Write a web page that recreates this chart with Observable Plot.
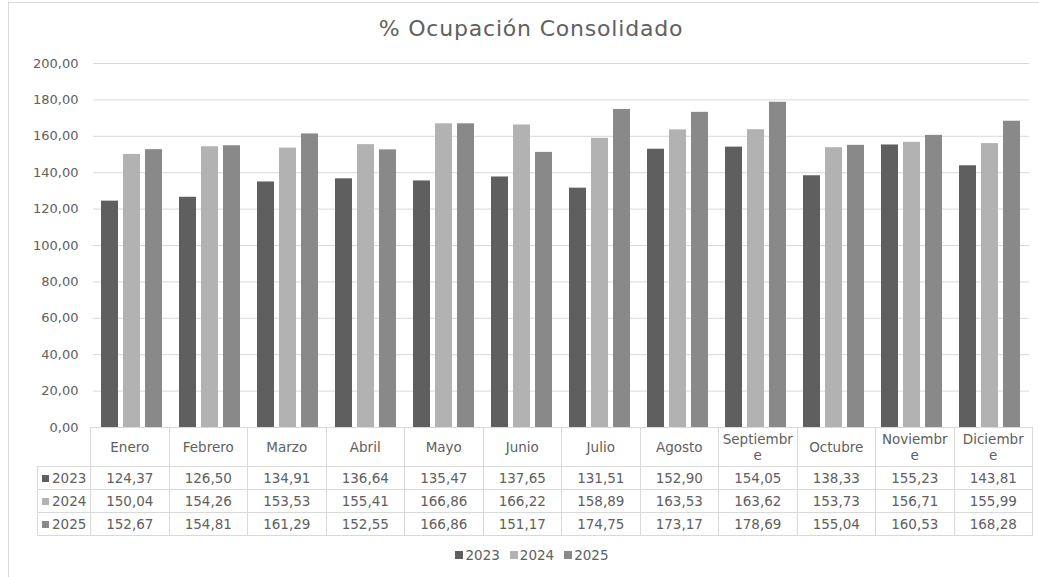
<!DOCTYPE html>
<html>
<head>
<meta charset="utf-8">
<script src="https://cdn.jsdelivr.net/npm/d3@7"></script>
<script src="https://cdn.jsdelivr.net/npm/@observablehq/plot@0.6"></script>
<style>
  html, body { margin: 0; padding: 0; background: #fff; }
  #wrap { position: relative; width: 1039px; height: 577px; overflow: hidden; font-family: "DejaVu Sans", sans-serif; color: #606060; }
  #frame { position: absolute; left: 8px; top: 2px; width: 1100px; height: 700px; border: 1px solid #d9d9d9; box-sizing: border-box; }
  #title { position: absolute; left: 0; width: 1062px; top: 16px; text-align: center; font-size: 22px; color: #606060; letter-spacing: 0.8px; }
  #chart { position: absolute; left: 0; top: 0; }
  #tbl { position: absolute; left: 37px; top: 427px; border-collapse: collapse; table-layout: fixed; font-size: 13.5px; color: #606060; }
  #tbl td { border: 1px solid #d9d9d9; text-align: center; padding: 0; height: 22px; white-space: pre-line; line-height: 16px; }
  #tbl tr.head td { height: 38px; }
  #tbl td.corner { border: none; }
  #tbl td.key { text-align: left; padding-left: 4px; }
  .sw { display: inline-block; width: 7px; height: 7px; margin-right: 3px; vertical-align: 1px; }
  #legend { position: absolute; left: 0; width: 1064px; top: 547px; text-align: center; font-size: 13.5px; color: #606060; }
  #legend span.item { margin: 0 5px; }
  #legend .sw { width: 8px; height: 8px; margin-right: 2px; }
</style>
</head>
<body>
<div id="wrap">
  <div id="frame"></div>
  <div id="chart"></div>
  <div id="title">% Ocupación Consolidado</div>
  <table id="tbl"></table>
  <div id="legend"></div>
</div>
<script>
const months = ["Enero","Febrero","Marzo","Abril","Mayo","Junio","Julio","Agosto","Septiembre","Octubre","Noviembre","Diciembre"];
const monthLabels = ["Enero","Febrero","Marzo","Abril","Mayo","Junio","Julio","Agosto","Septiembr\ne","Octubre","Noviembr\ne","Diciembr\ne"];
const years = ["2023","2024","2025"];
const v2023 = [124.37,126.50,134.91,136.64,135.47,137.65,131.51,152.90,154.05,138.33,155.23,143.81];
const v2024 = [150.04,154.26,153.53,155.41,166.86,166.22,158.89,163.53,163.62,153.73,156.71,155.99];
const v2025 = [152.67,154.81,161.29,152.55,166.86,151.17,174.75,173.17,178.69,155.04,160.53,168.28];
const yTicks = [0,20,40,60,80,100,120,140,160,180,200];
const colors = ["#5f5f5f","#b2b2b2","#898989"];

const series = [v2023, v2024, v2025];
const data = [];
years.forEach((yr, i) => months.forEach((m, j) => data.push({month: m, year: yr, value: series[i][j]})));

const fmt = d => d.toFixed(2).replace(".", ",");

const chart = Plot.plot({
  width: 1039,
  height: 440,
  marginTop: 63,
  marginBottom: 13,
  marginLeft: 90,
  marginRight: 7,
  style: {fontFamily: "DejaVu Sans, sans-serif", background: "transparent"},
  fx: {domain: months, padding: 0, axis: null},
  x: {domain: years, paddingInner: 0.217, paddingOuter: 0.33, axis: null},
  y: {domain: [0, 200], axis: null},
  color: {domain: years, range: colors},
  marks: [
    Plot.gridY(yTicks, {stroke: "#d9d9d9", strokeOpacity: 1, strokeWidth: 1}),
    Plot.axisY(yTicks, {label: null, tickSize: 0, tickPadding: 15, tickFormat: fmt, fontSize: 13, fill: "#606060"}),
    Plot.barY(data, {fx: "month", x: "year", y: "value", fill: "year"})
  ]
});
document.getElementById("chart").appendChild(chart);

// Data table
const tbl = d3.select("#tbl");
const colg = tbl.append("colgroup");
colg.append("col").style("width", "53px");
months.forEach(() => colg.append("col").style("width", "78.5px"));
tbl.style("width", (53 + 78.5 * 12) + "px");
const head = tbl.append("tr").attr("class", "head");
head.append("td").attr("class", "corner");
monthLabels.forEach(l => head.append("td").text(l));
years.forEach((yr, i) => {
  const tr = tbl.append("tr");
  const k = tr.append("td").attr("class", "key");
  k.append("span").attr("class", "sw").style("background", colors[i]);
  k.append("span").text(yr);
  series[i].forEach(v => tr.append("td").text(fmt(v)));
});

// Legend
const lg = d3.select("#legend");
years.forEach((yr, i) => {
  const it = lg.append("span").attr("class", "item");
  it.append("span").attr("class", "sw").style("background", colors[i]);
  it.append("span").text(yr);
});
</script>
</body>
</html>
